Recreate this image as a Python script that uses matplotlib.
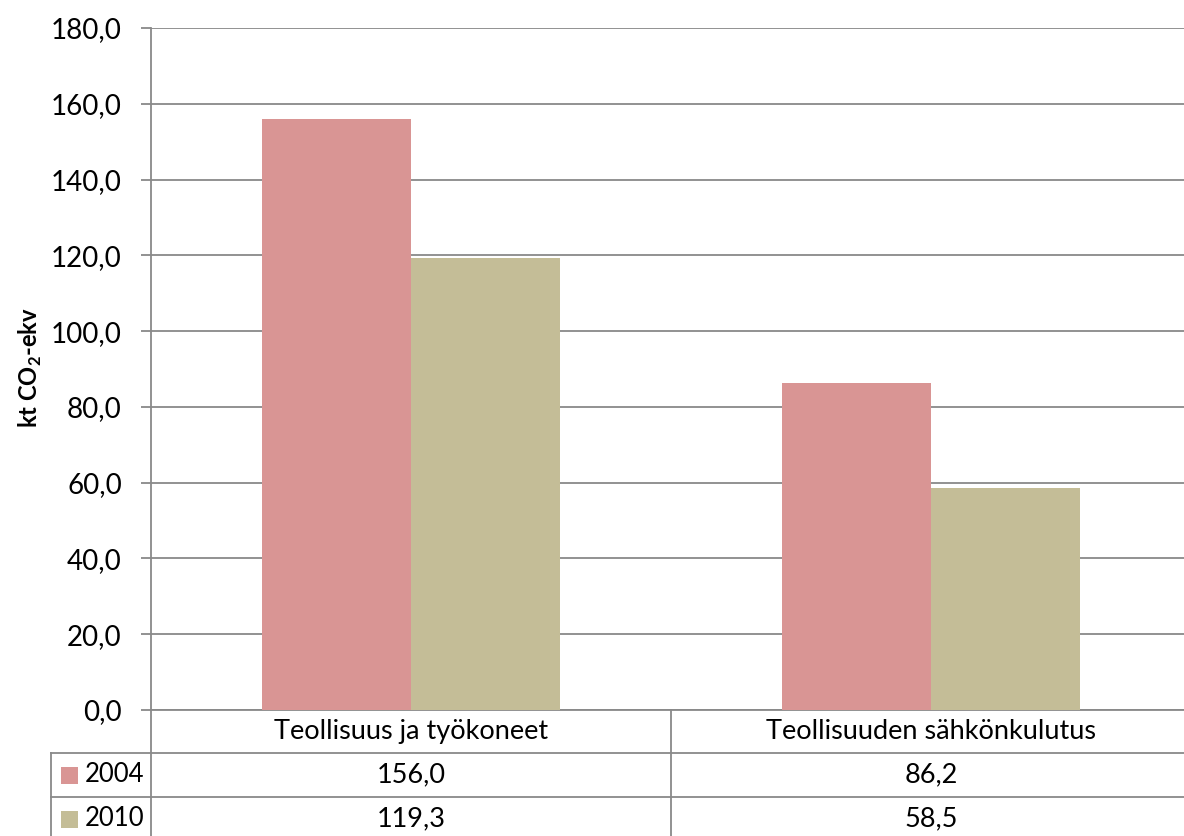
import matplotlib
matplotlib.use("Agg")
import matplotlib.pyplot as plt
from matplotlib.lines import Line2D
from matplotlib.patches import Rectangle

categories = ["Teollisuus ja työkoneet", "Teollisuuden sähkönkulutus"]
series_names = ["2004", "2010"]
values_2004 = [156.0, 86.2]
values_2010 = [119.3, 58.5]
y_ticks = [0, 20, 40, 60, 80, 100, 120, 140, 160, 180]

colors = ["#D99594", "#C4BD97"]
grid_color = "#898989"
font = "Lato"

W, H = 1184, 836
fig = plt.figure(figsize=(W / 100, H / 100), dpi=100)
plt.rcParams["font.family"] = [font, "DejaVu Sans"]
plt.rcParams["mathtext.fontset"] = "custom"
plt.rcParams["mathtext.bf"] = f"{font}:bold"
plt.rcParams["mathtext.rm"] = font

# plot area in pixel terms
left_px, right_px, top_px, bottom_px = 151, 1191, 28, 710
ax = fig.add_axes([left_px / W, 1 - bottom_px / H,
                   (right_px - left_px) / W, (bottom_px - top_px) / H])

n = len(categories)
bar_w = 0.287
for i, (vals, col) in enumerate(zip([values_2004, values_2010], colors)):
    xs = [c + 0.5 + (i - 0.5) * bar_w for c in range(n)]
    ax.bar(xs, vals, width=bar_w, color=col, zorder=3)

ax.set_xlim(0, n)
ax.set_ylim(0, 180)
ax.set_yticks(y_ticks)
ax.set_yticklabels([f"{t:.1f}".replace(".", ",") for t in y_ticks])
ax.yaxis.grid(True, color=grid_color, linewidth=1.3, zorder=0)
ax.set_xticks([])
for s in ["top", "right"]:
    ax.spines[s].set_visible(False)
for s in ["left", "bottom"]:
    ax.spines[s].set_color(grid_color)
    ax.spines[s].set_linewidth(1.3)
ax.tick_params(axis="y", direction="out", length=7, width=1.3,
               color=grid_color, labelsize=20, pad=14)

fig.text(30 / W, 1 - 368 / H, r"kt CO$_\mathbf{2}$-ekv", rotation=90,
         ha="center", va="center", fontsize=17, fontweight="bold")

# data table under the category axis
def fx(px):
    return px / W

def fy(py):
    return 1 - py / H

row_edges = [710, 753, 797, 841]
lw = 1.3
# horizontal lines
for y in row_edges[1:]:
    fig.add_artist(Line2D([fx(51), fx(right_px)], [fy(y), fy(y)],
                          color=grid_color, linewidth=lw))
# vertical lines
col_px = [left_px + c * (right_px - left_px) / n for c in range(n + 1)]
for x in col_px:
    fig.add_artist(Line2D([fx(x), fx(x)], [fy(710), fy(841)],
                          color=grid_color, linewidth=lw))
fig.add_artist(Line2D([fx(51), fx(51)], [fy(753), fy(841)],
                      color=grid_color, linewidth=lw))

table_fs = 19.5
for c, cat in enumerate(categories):
    cx = (col_px[c] + col_px[c + 1]) / 2
    fig.text(fx(cx), fy((row_edges[0] + row_edges[1]) / 2), cat,
             ha="center", va="center", fontsize=table_fs)
for r, (name, vals, col) in enumerate(zip(series_names,
                                          [values_2004, values_2010], colors)):
    cy = (row_edges[r + 1] + row_edges[r + 2]) / 2
    fig.add_artist(Rectangle((fx(61), fy(cy + 8.5)), 17 / W, 17 / H,
                             facecolor=col, edgecolor="none"))
    fig.text(fx(85), fy(cy), name, ha="left", va="center", fontsize=18.5)
    for c, v in enumerate(vals):
        cx = (col_px[c] + col_px[c + 1]) / 2
        fig.text(fx(cx), fy(cy), f"{v:.1f}".replace(".", ","),
                 ha="center", va="center", fontsize=table_fs)

fig.savefig("out.png", dpi=100)
